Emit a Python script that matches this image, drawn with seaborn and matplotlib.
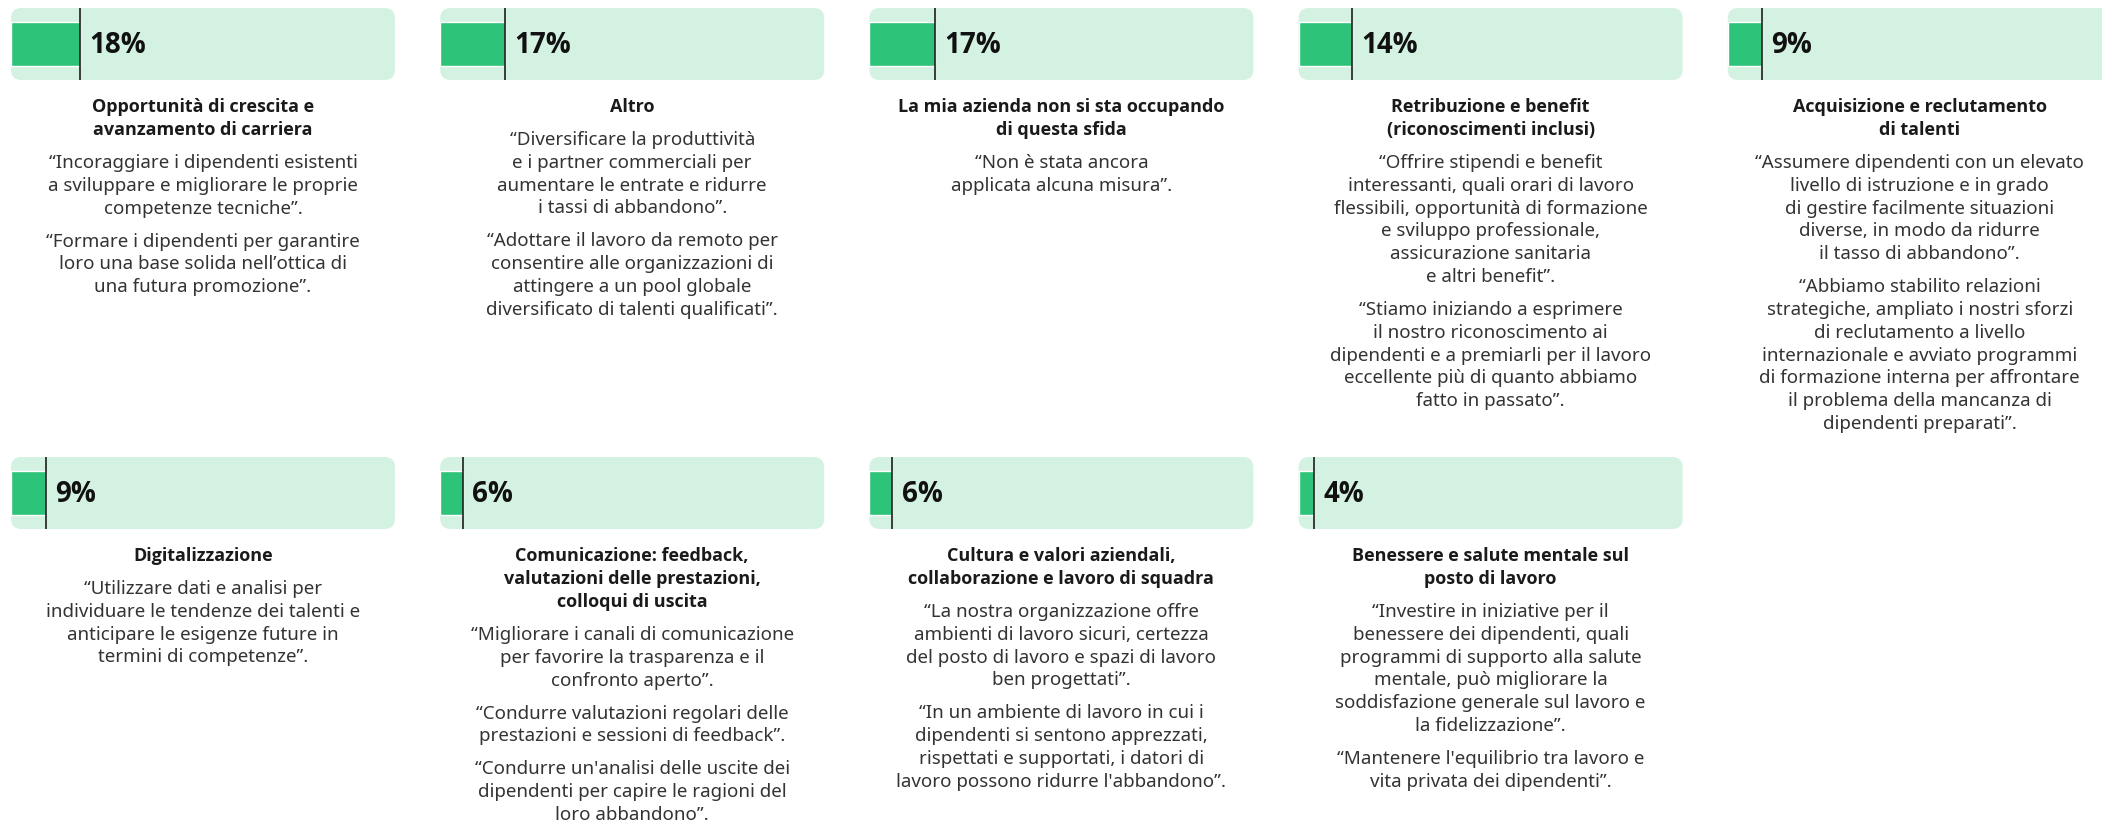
import matplotlib
matplotlib.use("Agg")
import matplotlib.pyplot as plt
from matplotlib.patches import FancyBboxPatch
import seaborn as sns

# values (share of respondents, %)
values = [18, 17, 17, 14, 9, 9, 6, 6, 4]

titles = [
    ["Opportunità di crescita e", "avanzamento di carriera"],
    ["Altro"],
    ["La mia azienda non si sta occupando", "di questa sfida"],
    ["Retribuzione e benefit", "(riconoscimenti inclusi)"],
    ["Acquisizione e reclutamento", "di talenti"],
    ["Digitalizzazione"],
    ["Comunicazione: feedback,", "valutazioni delle prestazioni,", "colloqui di uscita"],
    ["Cultura e valori aziendali,", "collaborazione e lavoro di squadra"],
    ["Benessere e salute mentale sul", "posto di lavoro"],
]

quotes = [
    [["“Incoraggiare i dipendenti esistenti", "a sviluppare e migliorare le proprie", "competenze tecniche”."],
     ["“Formare i dipendenti per garantire", "loro una base solida nell’ottica di", "una futura promozione”."]],
    [["“Diversificare la produttività", "e i partner commerciali per", "aumentare le entrate e ridurre", "i tassi di abbandono”."],
     ["“Adottare il lavoro da remoto per", "consentire alle organizzazioni di", "attingere a un pool globale", "diversificato di talenti qualificati”."]],
    [["“Non è stata ancora", "applicata alcuna misura”."]],
    [["“Offrire stipendi e benefit", "interessanti, quali orari di lavoro", "flessibili, opportunità di formazione",
      "e sviluppo professionale,", "assicurazione sanitaria", "e altri benefit”."],
     ["“Stiamo iniziando a esprimere", "il nostro riconoscimento ai", "dipendenti e a premiarli per il lavoro",
      "eccellente più di quanto abbiamo", "fatto in passato”."]],
    [["“Assumere dipendenti con un elevato", "livello di istruzione e in grado", "di gestire facilmente situazioni",
      "diverse, in modo da ridurre", "il tasso di abbandono”."],
     ["“Abbiamo stabilito relazioni", "strategiche, ampliato i nostri sforzi", "di reclutamento a livello",
      "internazionale e avviato programmi", "di formazione interna per affrontare", "il problema della mancanza di",
      "dipendenti preparati”."]],
    [["“Utilizzare dati e analisi per", "individuare le tendenze dei talenti e", "anticipare le esigenze future in",
      "termini di competenze”."]],
    [["“Migliorare i canali di comunicazione", "per favorire la trasparenza e il", "confronto aperto”."],
     ["“Condurre valutazioni regolari delle", "prestazioni e sessioni di feedback”."],
     ["“Condurre un'analisi delle uscite dei", "dipendenti per capire le ragioni del", "loro abbandono”."]],
    [["“La nostra organizzazione offre", "ambienti di lavoro sicuri, certezza", "del posto di lavoro e spazi di lavoro",
      "ben progettati”."],
     ["“In un ambiente di lavoro in cui i", "dipendenti si sentono apprezzati,", "rispettati e supportati, i datori di",
      "lavoro possono ridurre l'abbandono”."]],
    [["“Investire in iniziative per il", "benessere dei dipendenti, quali", "programmi di supporto alla salute",
      "mentale, può migliorare la", "soddisfazione generale sul lavoro e", "la fidelizzazione”."],
     ["“Mantenere l'equilibrio tra lavoro e", "vita privata dei dipendenti”."]],
]

GREEN = "#2dc378"
LIGHT = "#d4f2e2"
BOLD_FONT = ["Open Sans", "DejaVu Sans"]

sns.set_theme(style="white")
plt.rcParams["font.family"] = ["Noto Sans", "DejaVu Sans"]

W, H = 2102, 821
fig = plt.figure(figsize=(W / 100, H / 100), dpi=100)

col_left = 11
col_pitch = 429.2
panel_w = 384
bar_h = 72
row_top = [8, 457]

for i, v in enumerate(values):
    row, col = divmod(i, 5)
    left = col_left + col * col_pitch
    top = row_top[row]
    ax = fig.add_axes([left / W, (H - top - bar_h) / H, panel_w / W, bar_h / H])
    ax.set_axis_off()

    bg = FancyBboxPatch((0, 0), 1, 1, boxstyle="round,pad=0,rounding_size=0.027",
                        mutation_aspect=panel_w / bar_h, transform=ax.transAxes,
                        facecolor=LIGHT, edgecolor="none", zorder=0, clip_on=False)
    ax.add_patch(bg)

    sns.barplot(x=[v], y=[0], orient="h", color=GREEN, width=0.6, ax=ax,
                saturation=1, zorder=2)
    ax.set_xlim(0, 100)
    ax.set_ylim(0.5, -0.5)
    ax.set_axis_off()
    ax.axvline(v, color="#1e1e1e", lw=1.2, zorder=3)
    ax.text(v + 2.4, 0.02, f"{v}%", va="center", ha="left", fontsize=20,
            fontweight="bold", family=BOLD_FONT, color="#111111", zorder=4)

    # text block under the bar, positioned in pixels
    cx = (left + panel_w / 2) / W
    y = top + bar_h + 27
    for k, line in enumerate(titles[i]):
        if k:
            y += 23
        fig.text(cx, 1 - y / H, line, ha="center", va="center", fontsize=13,
                 fontweight="bold", family=BOLD_FONT, color="#1a1a1a")
    for p, para in enumerate(quotes[i]):
        y += 33
        for k, line in enumerate(para):
            if k:
                y += 22.8
            fig.text(cx, 1 - y / H, line, ha="center", va="center", fontsize=13.5,
                     color="#333333")

fig.savefig("out.png", dpi=100)
